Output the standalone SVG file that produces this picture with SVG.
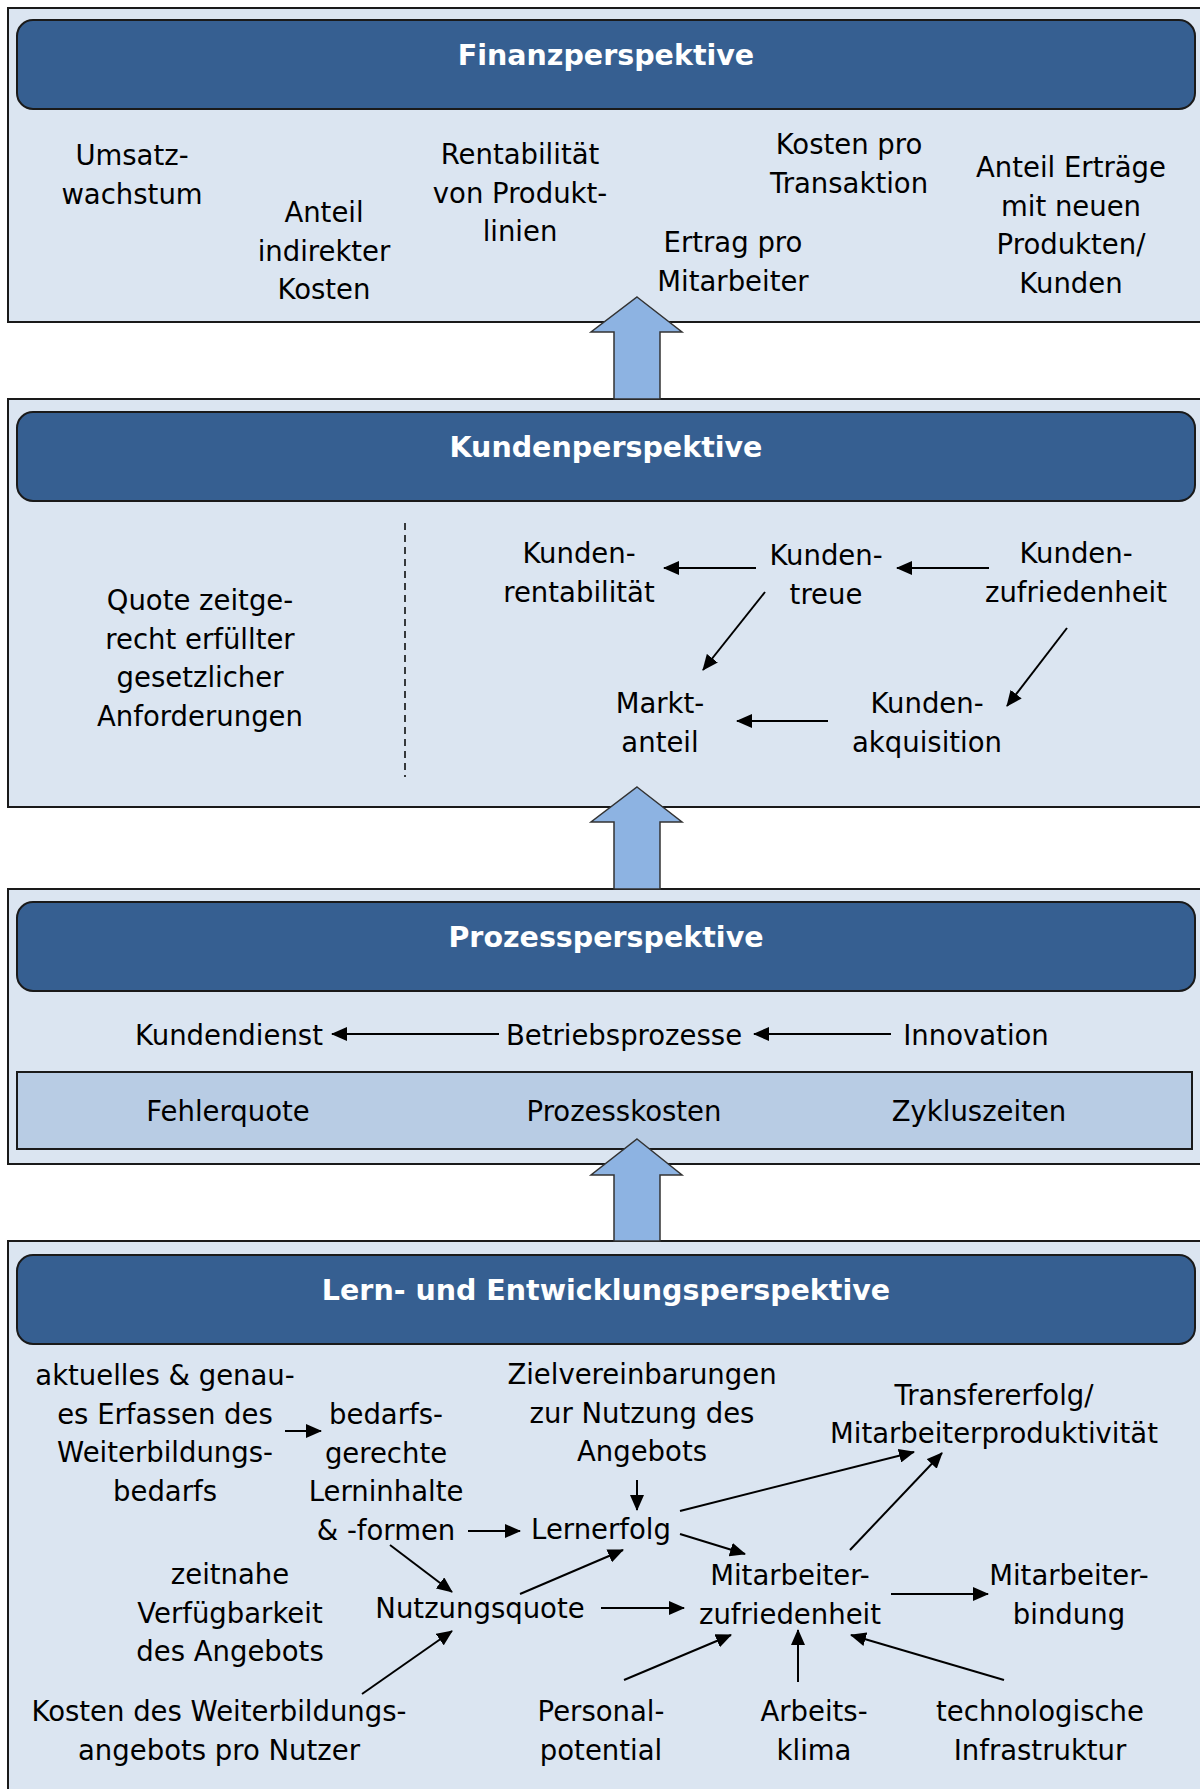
<svg xmlns="http://www.w3.org/2000/svg" width="1200" height="1789" viewBox="0 0 1200 1789">
<style>
.sec{fill:#DBE5F1;stroke:#1a1a1a;stroke-width:2}
.hdr{fill:#365F91;stroke:#1a1a1a;stroke-width:2}
.inner{fill:#B8CCE4;stroke:#1a1a1a;stroke-width:2}
.blk{fill:#8DB3E2;stroke:#333;stroke-width:1.5}
.ttl{font-family:"DejaVu Sans",Verdana,sans-serif;font-weight:bold;font-size:28.5px;fill:#fff;text-anchor:middle}
.t{font-family:"DejaVu Sans",Verdana,sans-serif;font-size:27.5px;fill:#000;text-anchor:middle}
.c line{stroke:#000;stroke-width:2;marker-end:url(#ah)}
</style>
<defs>
<marker id="ah" markerWidth="8" markerHeight="7" refX="7.5" refY="3.5" orient="auto" markerUnits="strokeWidth">
<path d="M0,0 L8,3.5 L0,7 Z" fill="#000"/>
</marker>
</defs>

<g id="finanz">
<rect class="sec" x="8" y="8" width="1200" height="314"/>
<rect class="hdr" x="17" y="20" width="1178" height="89" rx="16"/>
<text class="ttl" x="606" y="65">Finanzperspektive</text>
<text class="t" x="132" y="165">Umsatz-<tspan x="132" dy="38.5">wachstum</tspan></text>
<text class="t" x="324" y="222">Anteil<tspan x="324" dy="38.5">indirekter</tspan><tspan x="324" dy="38.5">Kosten</tspan></text>
<text class="t" x="520" y="164">Rentabilität<tspan x="520" dy="38.5">von Produkt-</tspan><tspan x="520" dy="38.5">linien</tspan></text>
<text class="t" x="849" y="154">Kosten pro<tspan x="849" dy="38.5">Transaktion</tspan></text>
<text class="t" x="733" y="252">Ertrag pro<tspan x="733" dy="38.5">Mitarbeiter</tspan></text>
<text class="t" x="1071" y="177">Anteil Erträge<tspan x="1071" dy="38.5">mit neuen</tspan><tspan x="1071" dy="38.5">Produkten/</tspan><tspan x="1071" dy="38.5">Kunden</tspan></text>
</g>

<g id="kunden">
<rect class="sec" x="8" y="399" width="1200" height="408"/>
<rect class="hdr" x="17" y="412" width="1178" height="89" rx="16"/>
<text class="ttl" x="606" y="457">Kundenperspektive</text>
<line x1="405" y1="523" x2="405" y2="777" stroke="#000" stroke-width="1.5" stroke-dasharray="7,5"/>
<text class="t" x="200" y="610">Quote zeitge-<tspan x="200" dy="38.5">recht erfüllter</tspan><tspan x="200" dy="38.5">gesetzlicher</tspan><tspan x="200" dy="38.5">Anforderungen</tspan></text>
<text class="t" x="579" y="563">Kunden-<tspan x="579" dy="38.5">rentabilität</tspan></text>
<text class="t" x="826" y="565">Kunden-<tspan x="826" dy="38.5">treue</tspan></text>
<text class="t" x="1076" y="563">Kunden-<tspan x="1076" dy="38.5">zufriedenheit</tspan></text>
<text class="t" x="660" y="713">Markt-<tspan x="660" dy="38.5">anteil</tspan></text>
<text class="t" x="927" y="713">Kunden-<tspan x="927" dy="38.5">akquisition</tspan></text>
</g>

<g id="prozess">
<rect class="sec" x="8" y="889" width="1200" height="275"/>
<rect class="hdr" x="17" y="902" width="1178" height="89" rx="16"/>
<text class="ttl" x="606" y="947">Prozessperspektive</text>
<text class="t" x="229" y="1045">Kundendienst</text>
<text class="t" x="624" y="1045">Betriebsprozesse</text>
<text class="t" x="976" y="1045">Innovation</text>
<rect class="inner" x="17" y="1072" width="1175" height="77"/>
<text class="t" x="228" y="1121">Fehlerquote</text>
<text class="t" x="624" y="1121">Prozesskosten</text>
<text class="t" x="979" y="1121">Zykluszeiten</text>
</g>

<g id="lern">
<rect class="sec" x="8" y="1241" width="1200" height="560"/>
<rect class="hdr" x="17" y="1255" width="1178" height="89" rx="16"/>
<text class="ttl" x="606" y="1300">Lern- und Entwicklungsperspektive</text>
<text class="t" x="165" y="1385">aktuelles &amp; genau-<tspan x="165" dy="38.5">es Erfassen des</tspan><tspan x="165" dy="38.5">Weiterbildungs-</tspan><tspan x="165" dy="38.5">bedarfs</tspan></text>
<text class="t" x="386" y="1424">bedarfs-<tspan x="386" dy="38.5">gerechte</tspan><tspan x="386" dy="38.5">Lerninhalte</tspan><tspan x="386" dy="38.5">&amp; -formen</tspan></text>
<text class="t" x="642" y="1384">Zielvereinbarungen<tspan x="642" dy="38.5">zur Nutzung des</tspan><tspan x="642" dy="38.5">Angebots</tspan></text>
<text class="t" x="601" y="1539">Lernerfolg</text>
<text class="t" x="994" y="1405">Transfererfolg/<tspan x="994" dy="38">Mitarbeiterproduktivität</tspan></text>
<text class="t" x="790" y="1585">Mitarbeiter-<tspan x="790" dy="38.5">zufriedenheit</tspan></text>
<text class="t" x="1069" y="1585">Mitarbeiter-<tspan x="1069" dy="38.5">bindung</tspan></text>
<text class="t" x="480" y="1618">Nutzungsquote</text>
<text class="t" x="230" y="1584">zeitnahe<tspan x="230" dy="38.5">Verfügbarkeit</tspan><tspan x="230" dy="38.5">des Angebots</tspan></text>
<text class="t" x="219" y="1721">Kosten des Weiterbildungs-<tspan x="219" dy="38.5">angebots pro Nutzer</tspan></text>
<text class="t" x="601" y="1721">Personal-<tspan x="601" dy="38.5">potential</tspan></text>
<text class="t" x="814" y="1721">Arbeits-<tspan x="814" dy="38.5">klima</tspan></text>
<text class="t" x="1040" y="1721">technologische<tspan x="1040" dy="38.5">Infrastruktur</tspan></text>
</g>

<g id="blockarrows">
<polygon class="blk" points="637,297 682,332 660,332 660,399 614,399 614,332 591,332"/>
<polygon class="blk" points="637,787 682,822 660,822 660,889 614,889 614,822 591,822"/>
<polygon class="blk" points="637,1139 682,1175 660,1175 660,1241 614,1241 614,1175 591,1175"/>
</g>

<g id="connectors" class="c">
<line x1="756" y1="568" x2="664" y2="568"/>
<line x1="989" y1="568" x2="897" y2="568"/>
<line x1="765" y1="592" x2="703" y2="670"/>
<line x1="1067" y1="628" x2="1007" y2="706"/>
<line x1="828" y1="721" x2="737" y2="721"/>
<line x1="499" y1="1034" x2="332" y2="1034"/>
<line x1="891" y1="1034" x2="754" y2="1034"/>
<line x1="285" y1="1431" x2="321" y2="1431"/>
<line x1="468" y1="1531" x2="520" y2="1531"/>
<line x1="637" y1="1480" x2="637" y2="1510"/>
<line x1="680" y1="1511" x2="914" y2="1452"/>
<line x1="850" y1="1550" x2="942" y2="1453"/>
<line x1="680" y1="1534" x2="745" y2="1554"/>
<line x1="891" y1="1594" x2="988" y2="1594"/>
<line x1="601" y1="1608" x2="684" y2="1608"/>
<line x1="520" y1="1594" x2="623" y2="1550"/>
<line x1="390" y1="1545" x2="452" y2="1592"/>
<line x1="362" y1="1694" x2="452" y2="1631"/>
<line x1="624" y1="1680" x2="731" y2="1635"/>
<line x1="798" y1="1682" x2="798" y2="1630"/>
<line x1="1004" y1="1680" x2="851" y2="1635"/>
</g>
</svg>
